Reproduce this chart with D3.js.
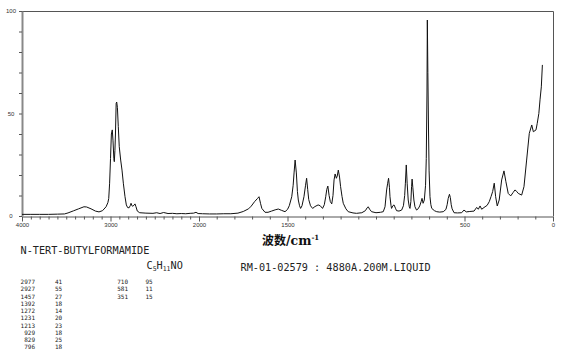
<!DOCTYPE html>
<html><head><meta charset="utf-8">
<script src="https://cdn.jsdelivr.net/npm/d3@7"></script>
<style>
html,body{margin:0;padding:0;background:#fff;}
svg{display:block;}
</style></head>
<body>
<svg id="c" width="570" height="358"></svg>
<script>
// Raman shift (cm-1) and relative intensity
const wavenumbers = [4000,3900,3800,3700,3600,3520,3480,3420,3360,3300,3270,3220,3170,3130,3090,3050,3030,3020,3010,3000,2990,2980,2972,2962,2957,2950,2944,2936,2930,2922,2912,2901,2885,2870,2855,2836,2821,2806,2790,2775,2768,2758,2749,2735,2723,2712,2697,2670,2600,2520,2478,2440,2400,2350,2300,2250,2200,2150,2100,2060,2034,2010,1980,1940,1900,1860,1820,1780,1750,1720,1705,1686,1670,1661,1652,1645,1627,1610,1590,1570,1552,1535,1514,1500,1490,1476,1468,1463,1457,1450,1444,1439,1432,1426,1418,1407,1398,1392,1386,1380,1370,1358,1345,1327,1315,1302,1292,1284,1278,1272,1265,1258,1250,1243,1237,1231,1224,1219,1213,1206,1200,1192,1185,1170,1157,1130,1110,1080,1060,1050,1044,1036,1025,1000,975,959,949,940,934,929,924,921,915,912,905,898,890,884,870,855,845,838,834,829,824,818,812,808,803,799,796,792,786,780,771,762,753,745,740,734,727,720,716,712,710,707,703,700,695,690,685,670,657,640,620,605,598,592,585,580,575,570,559,540,516,503,490,470,446,431,422,412,403,384,372,360,350,341,332,324,315,304,290,277,266,253,239,225,215,205,196,177,164,149,134,120,111,96,89,80,73,66,60];
const intensity = [0.8,0.8,0.8,0.8,0.9,1.0,1.5,2.5,3.5,4.5,4.4,3.5,2.4,2.0,2.6,4.5,6.5,8.5,16,28,40,42,37,28,26.5,32,40,55,55.6,53,43.6,33.8,27.3,22.4,16,9.4,5.4,4.1,4.0,5.2,6.2,5.0,4.8,5.2,5.9,4.5,2.4,1.6,1.4,1.3,1.6,1.2,1.7,1.2,1.3,1.1,1.2,1.1,1.3,1.4,1.8,1.2,1.1,1.0,1.0,1.1,1.1,1.4,2.2,3.5,4.8,7,8.5,9.4,6,3.7,1.8,1.8,2.4,3.0,3.4,2.8,2.1,3.2,5,9.4,15,21,27.3,21,12,7.8,5,3.7,5,9.4,15,18.4,13,8,5,3.7,4.6,5.4,5,3.7,5.5,9.4,13,14.6,10,7,5.9,10,17.6,20.5,18.4,19.5,22.4,19,14.3,9.5,6.2,3.5,2.1,1.5,1.3,1.6,2.6,4.0,4.5,3.3,2.1,1.6,1.8,2.1,4.5,12.7,16,18.4,14,9.4,5,3.7,5.0,5.4,3.8,2.6,2.4,2.9,5,10,16,24.9,16,7.8,4.5,3.7,7,14.3,18,14,7.8,4.5,2.9,3.5,4.9,7,8.6,6.2,7.8,15,28,60,95.6,70,40,22,9.4,5.5,3.7,2.6,2.1,1.9,2.1,3.2,5.5,8.6,10.6,9,5.5,3.5,1.6,1.5,1.6,2.9,2.0,2.2,2.4,4.2,3.3,4.9,3.3,4.5,5.2,7,9.5,11.9,16,9.4,4.9,7.8,17.6,22,16.7,11,9.8,11.5,12.7,12,11,10.2,14.3,27.3,40.3,44.4,41.1,42,45.2,50,57,63,73.7];

// axis ticks and labels
const xTickValues = d3.range(0, 4001, 100);
const xLabelValues = [4000, 3000, 2000, 1500, 500, 0];
const yTickValues = d3.range(0, 101, 10);
const yLabelValues = [0, 50, 100];

// peak table
const peakWave1 = ["2977","2927","1457","1392","1272","1231","1213","929","829","796"];
const peakInt1  = ["41","55","27","18","14","20","23","18","25","18"];
const peakWave2 = ["710","581","351"];
const peakInt2  = ["95","11","15"];

const compoundName = "N-TERT-BUTYLFORMAMIDE";
const sampleInfo = "RM-01-02579 : 4880A.200M.LIQUID";

const svg = d3.select("#c");
svg.append("rect").attr("width",570).attr("height",358).attr("fill","#fff");

const x = d3.scaleLinear().domain([4000, 2000, 0]).range([22, 199, 553]);
const y = d3.scaleLinear().domain([0, 100]).range([216, 11]);

// frame (top and right)
svg.append("path")
  .attr("d", `M${x(4000)},${y(100)+0.5}H${x(0)+0.5}V${y(0)}`)
  .attr("fill","none").attr("stroke","#555").attr("stroke-width",1);

// bottom axis
const gx = svg.append("g").attr("transform",`translate(0,${y(0)+0.5})`)
  .call(d3.axisBottom(x).tickValues(xTickValues).tickSize(3).tickSizeOuter(0)
        .tickFormat(d => xLabelValues.includes(d) ? String(d) : ""));
gx.select(".domain").attr("stroke","#555");
gx.selectAll(".tick line").attr("stroke","#555");
gx.selectAll(".tick").filter(d => xLabelValues.includes(d)).select("line").attr("y2",5);
gx.selectAll(".tick text").attr("y",6).attr("dy","0.71em")
  .attr("font-family","Liberation Sans, Arial, sans-serif").attr("font-size",6).attr("fill","#333");

// left axis
const gy = svg.append("g").attr("transform",`translate(${x(4000)},0)`)
  .call(d3.axisLeft(y).tickValues(yTickValues).tickSize(3).tickSizeOuter(0)
        .tickFormat(d => yLabelValues.includes(d) ? String(d) : ""));
gy.select(".domain").attr("stroke","#888").attr("stroke-width",2);
gy.selectAll(".tick line").attr("stroke","#555");
gy.selectAll(".tick text").attr("x",-11).attr("text-anchor","middle")
  .attr("font-family","Liberation Sans, Arial, sans-serif").attr("font-size",6).attr("fill","#333");

// spectrum
const pts = wavenumbers.map((w,i) => [w, intensity[i]]);
svg.append("path").datum(pts)
  .attr("d", d3.line().x(d => x(d[0])).y(d => y(d[1])))
  .attr("fill","none").attr("stroke","#111").attr("stroke-width",1).attr("stroke-linejoin","round");

// axis title
const t = svg.append("text").attr("x",262).attr("y",245).attr("fill","#111").attr("font-weight","bold");
t.append("tspan").attr("font-family","Noto Sans CJK SC").attr("font-size",12).text("波数");
t.append("tspan").attr("font-family","DejaVu Serif").attr("font-size",12.5).text("/cm");
t.append("tspan").attr("font-family","DejaVu Serif").attr("font-size",7).attr("dy",-5).text("-1");

const mono = "DejaVu Sans Mono, monospace";
svg.append("text").attr("x",20.5).attr("y",254).attr("font-family",mono).attr("font-size",10.2)
  .attr("fill","#222").text(compoundName);

const f = svg.append("text").attr("x",146.5).attr("y",269).attr("font-family",mono).attr("font-size",10.2).attr("fill","#222");
f.append("tspan").text("C");
f.append("tspan").attr("font-size",6.5).attr("dy",2).text("5");
f.append("tspan").attr("dy",-2).text("H");
f.append("tspan").attr("font-size",6.5).attr("dy",2).text("11");
f.append("tspan").attr("dy",-2).text("NO");

svg.append("text").attr("x",240.5).attr("y",270.5).attr("font-family",mono).attr("font-size",10.2)
  .attr("fill","#222").text(sampleInfo);

// peak table
const rowY = i => 284 + i*7.26;
const tbl = svg.append("g").attr("font-family",mono).attr("font-size",6).attr("fill","#222");
tbl.selectAll(".c1").data(peakWave1).join("text").attr("x",35).attr("y",(d,i)=>rowY(i)).attr("text-anchor","end").text(d=>d);
tbl.selectAll(".c2").data(peakInt1).join("text").attr("x",55).attr("y",(d,i)=>rowY(i)).text(d=>d);
tbl.selectAll(".c3").data(peakWave2).join("text").attr("x",128).attr("y",(d,i)=>rowY(i)).attr("text-anchor","end").text(d=>d);
tbl.selectAll(".c4").data(peakInt2).join("text").attr("x",145.5).attr("y",(d,i)=>rowY(i)).text(d=>d);
</script>
</body></html>
